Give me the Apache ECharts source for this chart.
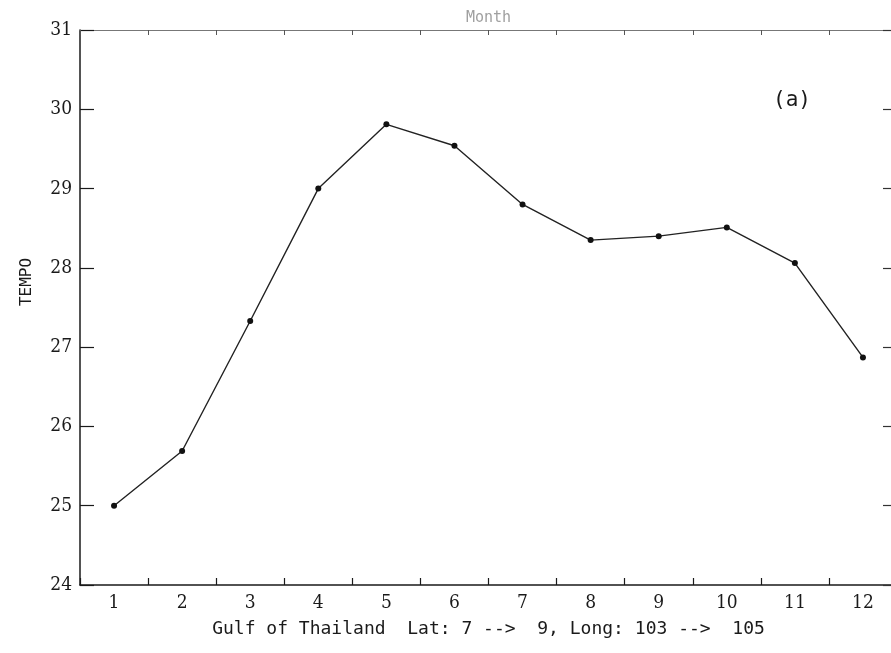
<!DOCTYPE html>
<html>
<head>
<meta charset="utf-8">
<title>Gulf of Thailand monthly temperature</title>
<script src="https://cdn.jsdelivr.net/npm/echarts@6/dist/echarts.min.js"></script>
<style>
  html, body { margin: 0; padding: 0; background: #fff; }
  #chart { width: 891px; height: 653px; }
</style>
</head>
<body>
<div id="chart"></div>
<script>
// Monthly mean temperature, Gulf of Thailand (Lat 7-9, Long 103-105)
const months = ['1', '2', '3', '4', '5', '6', '7', '8', '9', '10', '11', '12'];
const tempo = [25.0, 25.69, 27.33, 29.0, 29.81, 29.54, 28.80, 28.35, 28.40, 28.51, 28.06, 26.87];
const yMin = 24;
const yMax = 31;

const axisFont = '"DejaVu Serif Condensed", "Liberation Serif", serif';
const monoFont = '"DejaVu Sans Mono", "Liberation Mono", monospace';

const chart = echarts.init(document.getElementById('chart'), null, { renderer: 'canvas' });

chart.setOption({
  backgroundColor: '#ffffff',
  animation: false,
  // the frame runs a little past the right edge of the page
  grid: {
    left: 80, top: 30, width: 817, height: 555,
    containLabel: false,
    outerBoundsMode: 'none'
  },
  xAxis: [
    {
      type: 'category',
      data: months,
      position: 'bottom',
      boundaryGap: true,
      axisLine: { show: true, lineStyle: { color: '#1a1a1a', width: 1.5 } },
      axisTick: { show: true, inside: true, length: 7, lineStyle: { color: '#1a1a1a', width: 1.2 } },
      axisLabel: { color: '#1a1a1a', fontFamily: axisFont, fontSize: 19, margin: 9 },
      splitLine: { show: false },
      name: 'Gulf of Thailand  Lat: 7 -->  9, Long: 103 -->  105',
      nameLocation: 'middle',
      nameGap: 35,
      nameTextStyle: { color: '#1a1a1a', fontFamily: monoFont, fontSize: 18 }
    },
    {
      type: 'category',
      data: months,
      position: 'top',
      boundaryGap: true,
      axisLine: { show: true, lineStyle: { color: '#777777', width: 1.2 } },
      axisTick: { show: true, inside: true, length: 5, lineStyle: { color: '#555555', width: 1 } },
      axisLabel: { show: false },
      splitLine: { show: false },
      name: 'Month',
      nameLocation: 'middle',
      nameGap: 4,
      nameTextStyle: { color: '#a0a0a0', fontFamily: monoFont, fontSize: 15 }
    }
  ],
  yAxis: [
    {
      type: 'value',
      position: 'left',
      min: yMin,
      max: yMax,
      interval: 1,
      axisLine: { show: true, lineStyle: { color: '#1a1a1a', width: 1.5 } },
      axisTick: { show: true, inside: true, length: 14, lineStyle: { color: '#1a1a1a', width: 1.2 } },
      axisLabel: { color: '#1a1a1a', fontFamily: axisFont, fontSize: 19, margin: 8 },
      splitLine: { show: false }
    },
    {
      type: 'value',
      position: 'right',
      min: yMin,
      max: yMax,
      interval: 1,
      axisLine: { show: true, lineStyle: { color: '#1a1a1a', width: 1.5 } },
      axisTick: { show: true, inside: true, length: 14, lineStyle: { color: '#333333', width: 1.2 } },
      axisLabel: { show: false },
      splitLine: { show: false }
    }
  ],
  graphic: [
    {
      type: 'text',
      x: 27,
      y: 282,
      rotation: Math.PI / 2,
      style: {
        text: 'TEMPO',
        fill: '#1a1a1a',
        font: '16px ' + monoFont,
        align: 'center',
        verticalAlign: 'middle'
      }
    },
    {
      type: 'text',
      x: 792,
      y: 101,
      style: {
        text: '(a)',
        fill: '#1a1a1a',
        font: '21px ' + monoFont,
        align: 'center',
        verticalAlign: 'middle'
      }
    }
  ],
  series: [
    {
      type: 'line',
      xAxisIndex: 0,
      yAxisIndex: 0,
      data: tempo,
      symbol: 'circle',
      symbolSize: 6,
      itemStyle: { color: '#111111' },
      lineStyle: { color: '#222222', width: 1.4 },
      label: { show: false },
      silent: true
    }
  ]
});
</script>
</body>
</html>
